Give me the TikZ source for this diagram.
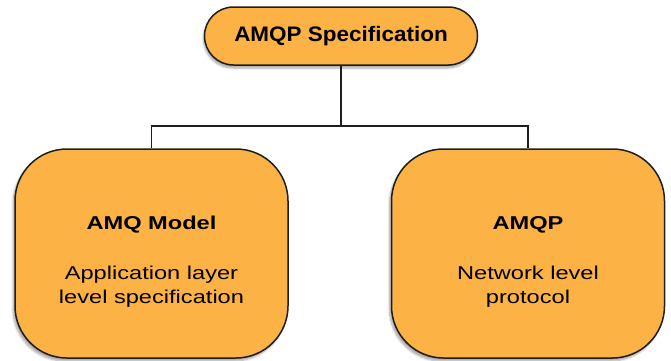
\documentclass[tikz,border=0pt]{standalone}
\usepackage{fontspec}
\setmainfont{Liberation Sans}
\newfontfamily\titlefont[FakeStretch=1.07]{Liberation Sans}
\newfontfamily\subfont[FakeStretch=1.27]{Liberation Sans}
\usetikzlibrary{shadows.blur}
\definecolor{boxorange}{RGB}{252,178,68}
\definecolor{edgedark}{RGB}{30,30,30}
\tikzset{
  pill/.style={draw=edgedark, line width=1.5pt, fill=boxorange, rounded corners=29pt,
    minimum width=273pt, minimum height=58pt, inner sep=0pt,
    blur shadow={shadow xshift=-1pt, shadow yshift=-3pt, shadow blur steps=6, shadow opacity=35}},
  bigbox/.style={draw=edgedark, line width=1.5pt, fill=boxorange, rounded corners=52pt,
    minimum width=273pt, minimum height=209pt, inner sep=0pt,
    blur shadow={shadow xshift=-2pt, shadow yshift=-3pt, shadow blur steps=6, shadow opacity=35}},
  boxtext/.style={align=center, inner sep=0pt, anchor=north, text=black,
    font=\subfont\fontsize{18.6pt}{24pt}\selectfont},
  conn/.style={draw=edgedark, line width=1.3pt}
}
\begin{document}
\begin{tikzpicture}[x=1pt, y=-1pt]
  \useasboundingbox (0,0) rectangle (671,360);
  \node[pill, font=\titlefont\fontsize{21pt}{25pt}\selectfont\bfseries] (top) at (341,36) {AMQP Specification};
  \node[bigbox] (left) at (151.5,253.5) {};
  \node[bigbox] (right) at (528,253.5) {};
  \node[boxtext] (lefttext) at (151.5,216) {\textbf{AMQ Model}\\[26pt]Application layer\\level specification};
  \node[boxtext] (righttext) at (528,216) {\textbf{AMQP}\\[26pt]Network level\\protocol};
  \coordinate (j) at (341,126);
  \draw[conn] (top.south) -- (j);
  \draw[conn] (left.north) |- (j) -| (right.north);
\end{tikzpicture}
\end{document}
